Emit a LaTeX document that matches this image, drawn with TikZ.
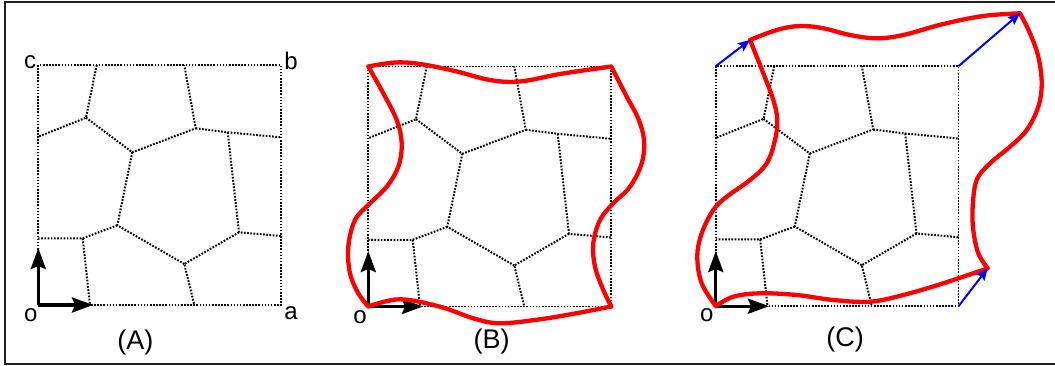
\documentclass[tikz,border=0pt]{standalone}
\usepackage{fontspec}
\setmainfont{Liberation Sans}
\usetikzlibrary{arrows.meta}
\definecolor{framec}{HTML}{231F20}
\definecolor{redc}{RGB}{255,0,0}
\definecolor{bluec}{RGB}{0,0,255}
\tikzset{
  grainline/.style={line width=2pt, dash pattern=on 1.7pt off 1.5pt, black},
  cellline/.style={line width=1.8pt, dash pattern=on 1.6pt off 1.5pt, black},
  axisarrow/.style={line width=3.2pt, -{Stealth[length=21pt,width=15pt,inset=3pt]}},
  disparrow/.style={bluec, line width=2pt, -{Stealth[length=12pt,width=10pt,inset=2pt]}},
  boundary/.style={redc, line width=4.3pt, line join=round, line cap=round},
  lbl/.style={font=\fontsize{24}{26}\selectfont, inner sep=0pt},
  captxt/.style={font=\fontsize{27}{30}\selectfont, inner sep=0pt},
}
\newcommand{\grainnet}[1]{%
  \begin{scope}[shift={(#1)}]
    \coordinate (T1) at (96.7,65); \coordinate (T2) at (184.3,65);
    \coordinate (L1) at (38.3,136.7); \coordinate (L2) at (38.3,238.3);
    \coordinate (R1) at (281,137.3); \coordinate (R2) at (281,236);
    \coordinate (B1) at (90,305); \coordinate (B2) at (194.3,305);
    \coordinate (V1) at (86,117.7); \coordinate (V2) at (132.3,152.3);
    \coordinate (V3) at (195.7,128.3); \coordinate (V4) at (227.7,132.3);
    \coordinate (V5) at (117.3,225.3); \coordinate (V6) at (82.7,238.3);
    \coordinate (V7) at (184.3,264); \coordinate (V8) at (239,232.3);
    \draw[cellline] (38.3,305) -- (281,305) -- (281,65) -- (38.3,65) -- cycle;
    \draw[grainline] (T1) -- (V1) -- (L1);
    \draw[grainline] (V1) -- (V2) -- (V3) -- (T2);
    \draw[grainline] (V3) -- (V4) -- (R1);
    \draw[grainline] (V4) -- (V8) -- (R2);
    \draw[grainline] (V8) -- (V7) -- (B2);
    \draw[grainline] (V7) -- (V5) -- (V2);
    \draw[grainline] (V5) -- (V6) -- (L2);
    \draw[grainline] (V6) -- (B1);
  \end{scope}}
\begin{document}
\begin{tikzpicture}[x=1pt,y=-1pt]
\useasboundingbox (0,0) rectangle (1055,366);
\fill[white] (0,0) rectangle (1055,366);
\draw[framec, line width=2.6pt] (1060,2) -- (5,2) -- (5,364) -- (1060,364);

% ---------- panel A ----------
\grainnet{0,0}
\coordinate (oA) at (38.3,305);
\coordinate (xA) at (93,305);
\coordinate (yA) at (38.3,248);
\draw[axisarrow] (oA) -- (yA);
\draw[axisarrow] (oA) -- (xA);
\node[lbl] (lc) at (30,62) {c};
\node[lbl] (lb) at (291,61) {b};
\node[lbl] (la) at (291,313) {a};
\node[lbl] (loA) at (30.7,315) {o};
\node[captxt] (capA) at (135.3,342.7) {(A)};

% ---------- panel B ----------
\grainnet{330,1.5}
\coordinate (oB) at (368.3,306.5);
\coordinate (xB) at (423,306.5);
\coordinate (yB) at (368.3,251);
\draw[axisarrow] (oB) -- (yB);
\draw[axisarrow] (oB) -- (xB);
\draw[boundary]
  plot[smooth, tension=0.6] coordinates {(368.3,306.5) (400,299.3) (440,306.7) (473.3,318.3) (500,323.3) (540,319.3) (575,313.5) (611.3,306.5)}
  plot[smooth, tension=0.6] coordinates {(611.3,306.5) (603.3,290) (595,266.7) (593.3,243.3) (600,220) (613.3,203.3) (630,186.7) (641.7,163.3) (644,140) (638,118) (626.7,96.7) (611.3,66.5)}
  plot[smooth, tension=0.6] coordinates {(611.3,66.5) (560,74) (520,81.5) (490,80) (455,71) (420,64) (395,62.5) (368.3,66.5)}
  plot[smooth, tension=0.6] coordinates {(368.3,66.5) (383.3,93.3) (396.7,120) (401.7,143.3) (398.3,166.7) (386.7,186.7) (370,203.3) (355,220) (348.3,246.7) (350,273.3) (358.3,293.3) (368.3,306.5)};
\node[lbl] (loB) at (360,316.7) {o};
\node[captxt] (capB) at (491.7,341.7) {(B)};

% ---------- panel C ----------
\grainnet{677.5,1.2}
\coordinate (oC) at (715.8,306.2);
\coordinate (xC) at (769,306.2);
\coordinate (yC) at (715.8,251);
\coordinate (aC) at (958.5,306.2);
\coordinate (bC) at (958.5,66.2);
\coordinate (cC) at (715.8,66.2);
\coordinate (aD) at (987.7,268.3);
\coordinate (bD) at (1020,13.3);
\coordinate (cD) at (750,40);
\draw[axisarrow] (oC) -- (yC);
\draw[axisarrow] (oC) -- (xC);
\draw[boundary]
  plot[smooth, tension=0.6] coordinates {(715.8,306.2) (733.3,296.7) (760,293.3) (796.7,295) (833.3,300) (870,301.7) (903.3,295) (943.3,283.3) (987.7,268.3)}
  plot[smooth, tension=0.6] coordinates {(987.7,268.3) (978.3,253.3) (973.3,230) (972.7,206.7) (976.7,180) (990,163.3) (1010,146.7) (1026.7,130) (1038.3,106.7) (1041.7,83.3) (1038.3,56.7) (1030,33.3) (1020,13.3)}
  plot[smooth, tension=0.6] coordinates {(1020,13.3) (983.3,16) (943.3,24) (903.3,35) (876.7,38.3) (850,35) (823.3,28.3) (800,26) (776.7,30) (750,40)}
  plot[smooth, tension=0.6] coordinates {(750,40) (763.3,73.3) (773.3,100) (777.3,120) (775,140) (766.7,163.3) (750,180) (726.7,196.7) (713.3,210) (701.7,233.3) (697.3,256.7) (701.7,283.3) (715.8,306.2)};
\draw[disparrow] (cC) -- (cD);
\draw[disparrow] (bC) -- (bD);
\draw[disparrow] (aC) -- (aD);
\node[lbl] (loC) at (706.7,315) {o};
\node[captxt] (capC) at (845,340) {(C)};
\end{tikzpicture}
\end{document}
